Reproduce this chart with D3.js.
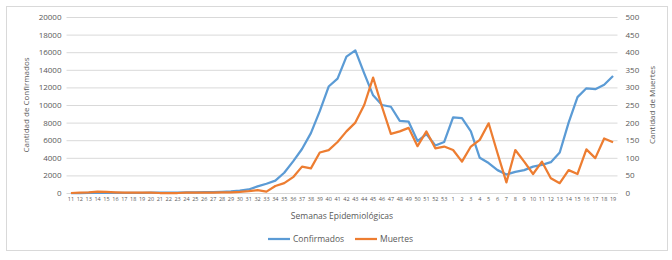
<!DOCTYPE html>
<html>
<head>
<meta charset="utf-8">
<script src="https://cdn.jsdelivr.net/npm/d3@7"></script>
<style>
  body { margin: 0; background: #fff; }
  text { font-family: "Open Sans", "Liberation Sans", sans-serif; fill: #595959; }
</style>
</head>
<body>
<div class="container"></div>
<script>
// semanas epidemiologicas: 11..53 (2020) y 1..19 (2021)
var semanas = ['11','12','13','14','15','16','17','18','19','20','21','22','23','24','25','26','27','28','29','30',
    '31','32','33','34','35','36','37','38','39','40','41','42','43','44','45','46','47','48','49','50','51','52','53',
    '1','2','3','4','5','6','7','8','9','10','11','12','13','14','15','16','17','18','19'];

var confirmados = [0,0,10,20,20,20,20,20,20,30,30,40,50,60,70,90,110,140,180,260,
    400,750,1050,1400,2300,3600,5000,6800,9300,12100,13000,15500,16200,13600,11100,10000,9800,8200,8100,5900,6700,5400,5800,
    8600,8500,7000,4000,3400,2600,2100,2400,2600,3000,3200,3500,4600,8000,10900,11900,11800,12300,13300];

var muertes = [0,1,2,4,3,2,1,1,1,1,0,0,0,1,1,1,1,2,2,3,
    5,8,4,20,28,45,75,70,115,122,145,175,200,250,328,245,168,175,185,133,175,127,132,
    122,89,132,151,198,113,30,122,89,54,89,42,28,65,54,124,99,155,144];

var ticksConf = [0,2000,4000,6000,8000,10000,12000,14000,16000,18000,20000];
var ticksMuertes = [0,50,100,150,200,250,300,350,400,450,500];

var loadChart = function(){
    const WIDTH = 672;
    const HEIGHT = 260;
    const LEFT = 66.5, RIGHT = 617.5, TOP = 17, BOTTOM = 193;
    const BLUE = '#5b9bd5', ORANGE = '#ed7d31';

    var svg = d3.select('.container').append('svg')
        .attr('width', WIDTH)
        .attr('height', HEIGHT);

    svg.append('rect')
        .attr('x', 6.5).attr('y', 6.5)
        .attr('width', 661).attr('height', 244)
        .attr('fill', '#fff').attr('stroke', '#d9d9d9');

    var idx = semanas.map(function(d, i){ return i; });
    var xScale = d3.scaleBand().domain(idx).range([LEFT, RIGHT]);
    var yLeft = d3.scaleLinear().domain([0, 20000]).range([BOTTOM, TOP]);
    var yRight = d3.scaleLinear().domain([0, 500]).range([BOTTOM, TOP]);
    var xc = function(i){ return xScale(i) + xScale.bandwidth() / 2; };

    // gridlines
    svg.append('g')
        .attr('transform', 'translate(' + LEFT + ',0)')
        .call(d3.axisLeft(yLeft).tickValues(ticksConf).tickSize(-(RIGHT - LEFT)).tickFormat(function(d){ return d; }).tickPadding(5))
        .call(function(g){
            g.select('.domain').remove();
            g.selectAll('.tick line').attr('stroke', '#d9d9d9');
            g.selectAll('.tick text').attr('font-size', 8).style('fill', '#595959');
        });

    svg.append('g')
        .attr('transform', 'translate(' + RIGHT + ',0)')
        .call(d3.axisRight(yRight).tickValues(ticksMuertes).tickSize(0).tickPadding(8))
        .call(function(g){
            g.select('.domain').remove();
            g.selectAll('.tick text').attr('font-size', 8).style('fill', '#595959');
        });

    // x axis
    svg.append('g')
        .attr('transform', 'translate(0,' + BOTTOM + ')')
        .call(d3.axisBottom(xScale).tickSize(0).tickPadding(4).tickFormat(function(i){ return semanas[i]; }))
        .call(function(g){
            g.select('.domain').attr('stroke', '#d9d9d9');
            g.selectAll('.tick text').attr('font-size', 5.5).style('fill', '#595959');
        });

    // axis titles
    svg.append('text')
        .attr('transform', 'translate(29,' + ((TOP + BOTTOM) / 2) + ') rotate(-90)')
        .attr('text-anchor', 'middle')
        .attr('font-size', 8)
        .text('Cantidad de Confirmados');

    svg.append('text')
        .attr('transform', 'translate(655,' + ((TOP + BOTTOM) / 2) + ') rotate(-90)')
        .attr('text-anchor', 'middle')
        .attr('font-size', 8)
        .text('Cantidad de Muertes');

    svg.append('text')
        .attr('x', (LEFT + RIGHT) / 2 - 0).attr('y', 219)
        .attr('text-anchor', 'middle')
        .attr('font-size', 8.5)
        .text('Semanas Epidemiológicas');

    // lines
    var lineConf = d3.line()
        .x(function(d, i){ return xc(i); })
        .y(function(d){ return yLeft(d); });
    var lineMuertes = d3.line()
        .x(function(d, i){ return xc(i); })
        .y(function(d){ return yRight(d); });

    svg.append('path')
        .attr('d', lineConf(confirmados))
        .attr('fill', 'none').attr('stroke', BLUE)
        .attr('stroke-width', 2.25).attr('stroke-linejoin', 'round');

    svg.append('path')
        .attr('d', lineMuertes(muertes))
        .attr('fill', 'none').attr('stroke', ORANGE)
        .attr('stroke-width', 2.25).attr('stroke-linejoin', 'round');

    // legend
    var legend = svg.append('g').attr('transform', 'translate(0,239)');
    var items = [{name: 'Confirmados', color: BLUE, x: 268}, {name: 'Muertes', color: ORANGE, x: 355}];
    items.forEach(function(it){
        legend.append('line')
            .attr('x1', it.x).attr('x2', it.x + 22)
            .attr('stroke', it.color).attr('stroke-width', 2.25);
        legend.append('text')
            .attr('x', it.x + 25).attr('y', 3)
            .attr('font-size', 8.5)
            .text(it.name);
    });
};

window.onload = loadChart;
</script>
</body>
</html>
